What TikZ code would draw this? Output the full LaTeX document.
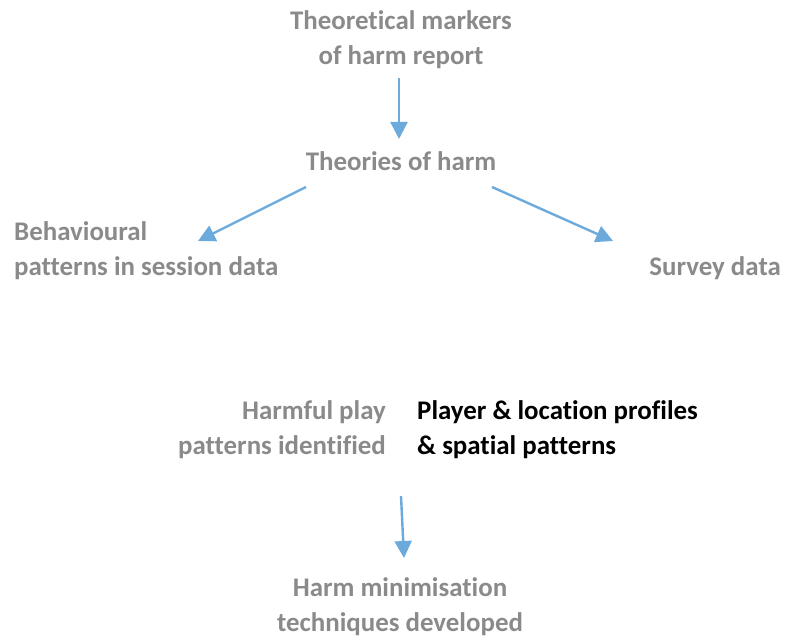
\documentclass[tikz,border=0pt]{standalone}
\usepackage{fontspec}
\setmainfont[Ligatures=NoCommon,RawFeature={-liga}]{Carlito}
\usetikzlibrary{arrows.meta}
\definecolor{txtgray}{RGB}{138,138,138}
\definecolor{arrblue}{RGB}{108,170,220}
\begin{document}
\begin{tikzpicture}[x=1pt,y=-1pt,
  lbl/.style={inner sep=0pt,text=txtgray,font=\fontsize{26.9}{35}\selectfont\bfseries},
  conn/.style={draw=arrblue,line width=2.4pt,-{Triangle[length=17pt,width=17pt]}}]
\useasboundingbox (0,0) rectangle (786,639);
\node[lbl,align=center] (tm) at (401,40) {Theoretical markers\\of harm report};
\node[lbl] (th) at (401,161) {Theories of harm};
\node[lbl,align=left,anchor=west] (bp) at (14,251) {Behavioural\\patterns in session data};
\node[lbl,anchor=east] (sd) at (781,268) {Survey data};
\node[lbl,align=right,anchor=east] (hp) at (386,430) {Harmful play\\patterns identified};
\node[lbl,align=left,anchor=west,text=black] (pl) at (417,430) {Player \& location profiles\\\& spatial patterns};
\node[lbl,align=center] (hm) at (400,607) {Harm minimisation\\techniques developed};
\coordinate (a1s) at (399,78);
\coordinate (a1e) at (399,139);
\coordinate (a2s) at (306,187);
\coordinate (a2e) at (198,241);
\coordinate (a3s) at (492,187);
\coordinate (a3e) at (613,241);
\coordinate (a4s) at (401,496);
\coordinate (a4e) at (404,558);
\draw[conn] (a1s) -- (a1e);
\draw[conn] (a2s) -- (a2e);
\draw[conn] (a3s) -- (a3e);
\draw[conn] (a4s) -- (a4e);
\end{tikzpicture}
\end{document}
